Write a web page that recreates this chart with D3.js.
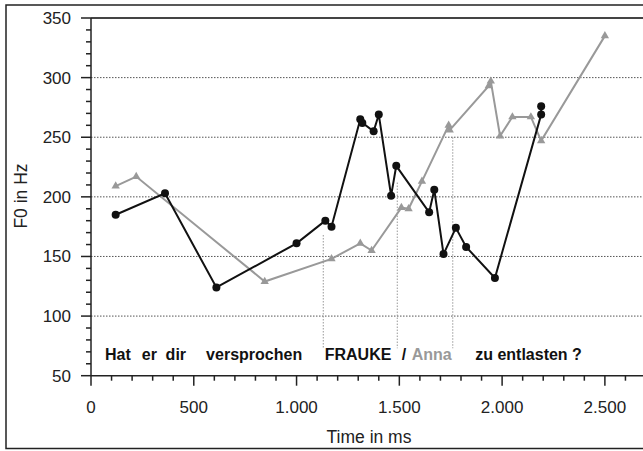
<!DOCTYPE html>
<html lang="de">
<head>
<meta charset="UTF-8">
<title>F0 contour</title>
<script src="https://d3js.org/d3.v7.min.js"></script>
<style>
  body { margin: 0; background: #fff; }
  svg { display: block; font-family: "Liberation Sans", Arial, sans-serif; }
  .tick-label { font-size: 17px; fill: #222; }
  .axis-title { font-size: 17.5px; fill: #222; }
  .word { font-size: 16px; font-weight: bold; }
</style>
</head>
<body>
<div id="chart"></div>
<script>
// black series (circles): time in ms, F0 in Hz
const blackTime = [120, 360, 610, 1000, 1140, 1170, 1310, 1320, 1375, 1400, 1460, 1485, 1645, 1670, 1715, 1775, 1825, 1965, 2190, 2190];
const blackF0   = [185, 203, 124, 161, 180, 175, 265, 262, 255, 269, 201, 226, 187, 206, 152, 174, 158, 132, 269, 276];

// grey series (triangles)
const greyTime = [120, 220, 845, 1170, 1310, 1365, 1510, 1545, 1610, 1740, 1745, 1935, 1945, 1990, 2050, 2140, 2190, 2500];
const greyF0   = [209, 217, 129, 148, 161, 155, 191, 190, 213, 260, 256, 293, 297, 251, 267, 267, 247, 335];

// word boundaries (dotted verticals): time and upper F0 end
const boundTime = [1130, 1490, 1760];
const boundTop  = [168, 212, 250];
const boundBottom = 73;

// words of the utterance, start time in ms
const words = [
  { text: "Hat", t: 68, grey: false },
  { text: "er", t: 247, grey: false },
  { text: "dir", t: 363, grey: false },
  { text: "versprochen", t: 560, grey: false },
  { text: "FRAUKE", t: 1137, grey: false },
  { text: "/", t: 1512, grey: false },
  { text: "Anna", t: 1560, grey: true },
  { text: "zu entlasten ?", t: 1869, grey: false }
];
const wordF0 = 63;

const xTicks = [0, 500, 1000, 1500, 2000, 2500];
const yTicks = [50, 100, 150, 200, 250, 300, 350];
const gridValues = [100, 150, 200, 250, 300];

const width = 643, height = 451;
const svg = d3.select("#chart").append("svg")
  .attr("width", width).attr("height", height);

const x = d3.scaleLinear().domain([0, 2700]).range([91, 646]);
const y = d3.scaleLinear().domain([50, 350]).range([375.7, 18]);

const de = d3.formatLocale({ decimal: ",", thousands: ".", grouping: [3], currency: ["", " €"] });
const fmt = de.format(",");

// outer frame
svg.append("rect")
  .attr("x", 6).attr("y", 5).attr("width", 640).attr("height", 443.5)
  .attr("fill", "#fff").attr("stroke", "#222").attr("stroke-width", 1.5);

// grid
svg.append("g").selectAll("line").data(gridValues).join("line")
  .attr("x1", x(0)).attr("x2", width)
  .attr("y1", d => y(d)).attr("y2", d => y(d))
  .attr("stroke", "#555").attr("stroke-width", 1)
  .attr("stroke-dasharray", "1.5,1.5");

// top border of plot
svg.append("line")
  .attr("x1", x(0)).attr("x2", width)
  .attr("y1", y(350)).attr("y2", y(350))
  .attr("stroke", "#444").attr("stroke-width", 2);

// word boundary lines
svg.append("g").selectAll("line").data(boundTime).join("line")
  .attr("x1", d => x(d)).attr("x2", d => x(d))
  .attr("y1", (d, i) => y(boundTop[i])).attr("y2", y(boundBottom))
  .attr("stroke", "#999").attr("stroke-width", 1)
  .attr("stroke-dasharray", "1.5,1.5");

// axes
const xAxisMinor = d3.range(0, 2700, 100);
const gx = svg.append("g");
gx.append("line").attr("x1", x(0)).attr("x2", width).attr("y1", y(50)).attr("y2", y(50))
  .attr("stroke", "#222").attr("stroke-width", 1.5);
gx.selectAll(".minor").data(xAxisMinor).join("line")
  .attr("x1", d => x(d)).attr("x2", d => x(d))
  .attr("y1", y(50)).attr("y2", d => y(50) + (d % 500 === 0 ? 10 : 5))
  .attr("stroke", "#222").attr("stroke-width", 1.5);
gx.selectAll("text").data(xTicks).join("text")
  .attr("class", "tick-label")
  .attr("x", d => x(d)).attr("y", y(50) + 37)
  .attr("text-anchor", "middle")
  .text(d => fmt(d));

const yAxisMinor = d3.range(50, 351, 10);
const gy = svg.append("g");
gy.append("line").attr("x1", x(0)).attr("x2", x(0)).attr("y1", y(350)).attr("y2", y(50))
  .attr("stroke", "#222").attr("stroke-width", 1.5);
gy.selectAll(".minor").data(yAxisMinor).join("line")
  .attr("x1", d => x(0) - (d % 50 === 0 ? 10 : 5)).attr("x2", x(0))
  .attr("y1", d => y(d)).attr("y2", d => y(d))
  .attr("stroke", "#222").attr("stroke-width", 1.5);
gy.selectAll("text").data(yTicks).join("text")
  .attr("class", "tick-label")
  .attr("x", 71).attr("y", d => y(d)).attr("dy", "0.35em")
  .attr("text-anchor", "end")
  .text(d => d);

svg.append("text").attr("class", "axis-title")
  .attr("x", 369).attr("y", 443).attr("text-anchor", "middle")
  .text("Time in ms");
svg.append("text").attr("class", "axis-title")
  .attr("transform", "translate(27,196) rotate(-90)")
  .attr("text-anchor", "middle")
  .text("F0 in Hz");

// series
const line = d3.line().x(d => x(d[0])).y(d => y(d[1]));
const grey = greyTime.map((t, i) => [t, greyF0[i]]);
const black = blackTime.map((t, i) => [t, blackF0[i]]);

svg.append("path").datum(grey).attr("d", line)
  .attr("fill", "none").attr("stroke", "#999").attr("stroke-width", 2);
svg.append("g").selectAll("path").data(grey).join("path")
  .attr("d", d3.symbol(d3.symbolTriangle, 30))
  .attr("transform", d => `translate(${x(d[0])},${y(d[1])})`)
  .attr("fill", "#999");

svg.append("path").datum(black).attr("d", line)
  .attr("fill", "none").attr("stroke", "#111").attr("stroke-width", 2);
svg.append("g").selectAll("circle").data(black).join("circle")
  .attr("cx", d => x(d[0])).attr("cy", d => y(d[1])).attr("r", 4)
  .attr("fill", "#111");

// utterance text
svg.append("g").selectAll("text").data(words).join("text")
  .attr("class", "word")
  .attr("x", d => x(d.t)).attr("y", y(wordF0))
  .attr("fill", d => d.grey ? "#999" : "#111")
  .text(d => d.text);
</script>
</body>
</html>
